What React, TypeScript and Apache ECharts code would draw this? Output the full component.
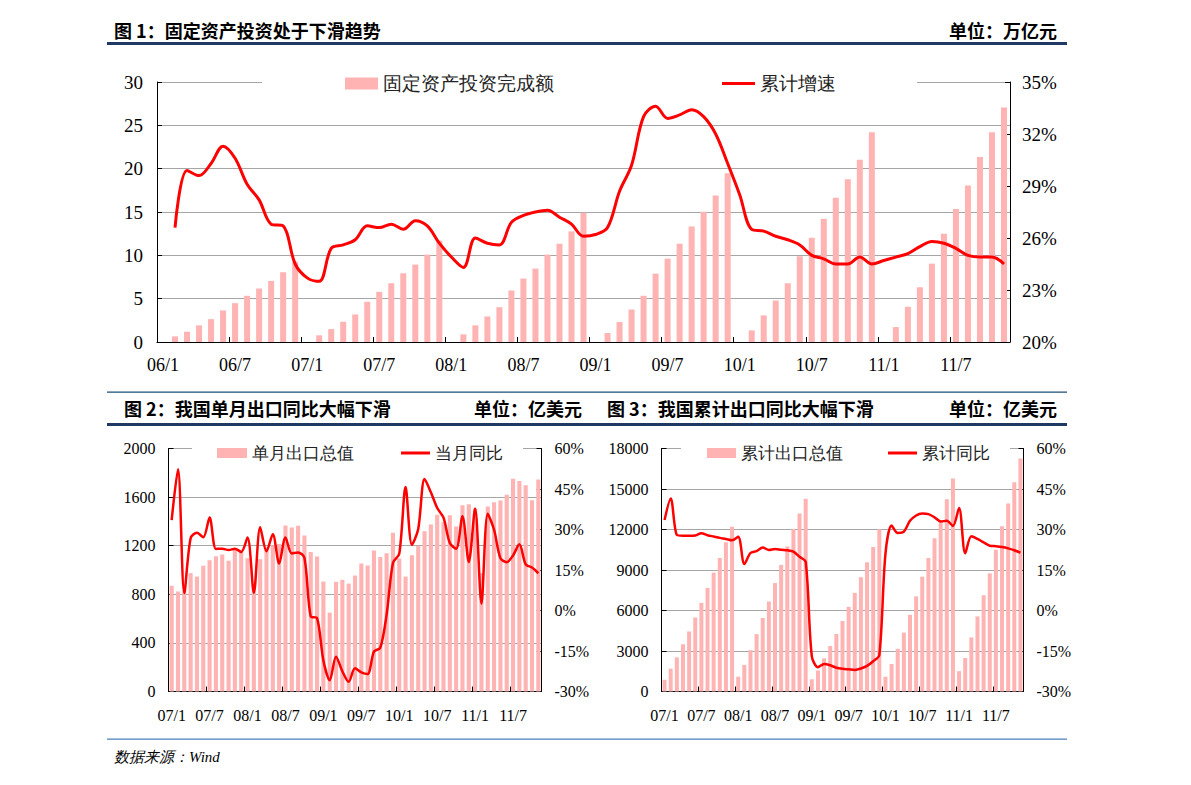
import React, { useEffect, useRef } from "react";
import * as echarts from "echarts";

// ---------- categories ----------
const faiYears = ["06", "07", "08", "09", "10", "11"];
const expYears = ["07", "08", "09", "10", "11"];
const monthNums = [1, 2, 3, 4, 5, 6, 7, 8, 9, 10, 11, 12];

// ---------- Figure 1: fixed asset investment (万亿元) & cumulative growth (%) ----------
const faiAmount = [
  null, 0.65, 1.19, 1.92, 2.64, 3.64, 4.48, 5.33, 6.17, 7.05, 8.05, 9.27,
  null, 0.77, 1.49, 2.34, 3.18, 4.64, 5.79, 6.78, 7.93, 8.93, 10.08, 11.69,
  null, 0.88, 1.92, 2.95, 4.02, 5.94, 7.32, 8.47, 10.08, 11.34, 12.76, 14.9,
  null, 1.03, 2.3, 3.75, 5.33, 7.89, 9.62, 11.34, 13.33, 15.02, 16.9, 19.46,
  null, 1.34, 3.07, 4.79, 6.78, 9.89, 12.03, 14.21, 16.63, 18.77, 21.03, 24.21,
  null, 1.72, 4.06, 6.32, 9.04, 12.49, 15.36, 18.05, 21.34, 24.21, 27.05,
];
const faiGrowth = [
  null, 26.6, 29.9, 29.6, 30.3, 31.3, 30.6, 29.1, 28.2, 26.8, 26.7, 24.5,
  23.7, 23.5, 25.4, 25.6, 25.9, 26.7, 26.6, 26.8, 26.5, 27.0, 26.7, 25.7,
  24.9, 24.3, 26.0, 25.7, 25.6, 26.9, 27.3, 27.5, 27.6, 27.2, 26.8, 26.1,
  26.2, 26.6, 28.7, 30.2, 33.0, 33.6, 32.9, 33.1, 33.4, 33.0, 32.0, 30.3,
  28.5, 26.5, 26.4, 26.1, 25.9, 25.6, 25.0, 24.8, 24.5, 24.5, 24.9, 24.5,
  24.7, 24.9, 25.1, 25.5, 25.8, 25.7, 25.4, 25.0, 24.9, 24.9, 24.5,
];

// ---------- Figure 2: monthly exports (亿美元) & YoY (%) ----------
const exportMonthly = [
  870, 823, 832, 974, 946, 1035, 1081, 1114, 1128, 1077, 1177, 1144,
  1097, 874, 1089, 1187, 1204, 1215, 1367, 1349, 1364, 1284, 1149, 1112,
  905, 649, 903, 919, 888, 954, 1054, 1037, 1160, 1108, 1137, 1307,
  1095, 946, 1121, 1200, 1318, 1374, 1455, 1392, 1450, 1359, 1533, 1541,
  1507, 974, 1522, 1557, 1572, 1619, 1752, 1733, 1697, 1575, 1745,
];
const exportMonthlyYoY = [
  33.5, 52.3, 6.5, 26.8, 28.8, 27.1, 34.4, 22.8, 22.9, 22.4, 22.9, 21.7,
  27.0, 6.6, 30.8, 21.9, 28.2, 17.4, 27.0, 21.1, 21.5, 19.5, -2.2, -2.8,
  -18.5, -25.8, -17.1, -22.5, -26.4, -21.4, -22.9, -23.5, -15.2, -13.8, -1.5, 17.6,
  21.0, 45.7, 24.3, 30.2, 48.7, 43.8, 38.0, 34.4, 25.0, 22.9, 34.9, 18.0,
  37.8, 2.5, 35.8, 29.9, 19.4, 17.9, 20.4, 24.5, 17.1, 15.9, 13.8,
];

// ---------- Figure 3: cumulative exports (亿美元) & cumulative YoY (%) ----------
const exportCum = [
  870, 1693, 2525, 3499, 4445, 5480, 6561, 7675, 8803, 9880, 11057, 12201,
  1097, 1971, 3060, 4247, 5451, 6666, 8033, 9382, 10746, 12030, 13179, 14285,
  905, 1554, 2456, 3375, 4263, 5217, 6271, 7308, 8466, 9574, 10711, 12017,
  1095, 2041, 3162, 4362, 5680, 7051, 8506, 9898, 11348, 12707, 14240, 15779,
  1507, 2481, 4003, 5560, 7132, 8751, 10503, 12236, 13933, 15508, 17253,
];
const exportCumYoY = [
  33.5, 41.5, 28.0, 27.7, 27.7, 27.8, 28.6, 27.9, 27.4, 26.9, 26.5, 26.0,
  27.3, 17.2, 21.3, 22.0, 23.3, 22.4, 22.8, 22.5, 22.3, 21.8, 19.9, 18.0,
  -17.0, -21.0, -19.8, -20.3, -21.2, -21.6, -21.8, -22.0, -21.5, -20.5, -18.8, -16.5,
  21.0, 31.5, 28.7, 29.2, 33.2, 35.2, 35.9, 35.7, 34.5, 33.0, 33.2, 31.3,
  38.0, 21.2, 27.5, 26.5, 25.2, 24.0, 23.8, 23.5, 23.0, 22.3, 21.4,
];

// ---------- texts ----------
const title1 = "图 1：固定资产投资处于下滑趋势";
const unit1 = "单位：万亿元";
const title2 = "图 2：我国单月出口同比大幅下滑";
const title3 = "图 3：我国累计出口同比大幅下滑";
const unit23 = "单位：亿美元";
const sourceText = "数据来源：Wind";

const buildCats = (years: string[], n: number) => {
  const out: string[] = [];
  years.forEach((y) => monthNums.forEach((m) => out.push(`${y}/${m}`)));
  return out.slice(0, n);
};
const faiCats = buildCats(faiYears, faiAmount.length);
const expCats = buildCats(expYears, exportMonthly.length);

const SERIF = "Liberation Serif";
const LEGEND_FONT = "Liberation Serif";
const BOLD_FONT = "Noto Sans CJK SC";
const BAR = "#FFB3B3";
const RED = "#FF0000";
const GRIDC = "#A6A6A6";

const GROWTH_BASE = 20;

export default function App() {
  const ref = useRef<HTMLDivElement>(null);
  useEffect(() => {
    if (!ref.current) return;
    const chart = echarts.init(ref.current, undefined, { renderer: "svg" });

    const xAxis = (gridIndex: number, data: string[], fontSize: number, margin: number) => ({
      type: "category",
      gridIndex,
      data,
      boundaryGap: true,
      axisLine: { show: true, lineStyle: { color: "#000", width: 1 } },
      axisTick: {
        show: true,
        inside: true,
        length: 5,
        interval: (i: number) => i % 6 === 0,
        lineStyle: { color: "#000" },
      },
      axisLabel: {
        interval: (i: number) => i % 6 === 0,
        color: "#000",
        fontSize,
        fontFamily: SERIF,
        margin,
      },
      splitLine: { show: false },
    });

    const yAxis = (
      gridIndex: number,
      position: string,
      min: number,
      max: number,
      interval: number,
      fontSize: number,
      margin: number,
      split: boolean,
      formatter?: (v: number) => string
    ) => ({
      type: "value",
      gridIndex,
      position,
      min,
      max,
      interval,
      axisLine: { show: true, lineStyle: { color: "#000", width: 1 } },
      axisTick: { show: true, inside: true, length: 5, lineStyle: { color: "#000" } },
      axisLabel: {
        color: "#000",
        fontSize,
        fontFamily: SERIF,
        margin,
        formatter: formatter || ((v: number) => `${v}`),
      },
      splitLine: { show: split, lineStyle: { color: GRIDC, width: 1 } },
    });

    const legendText = (fontSize: number) => ({
      color: "#222",
      fontSize,
      fontFamily: LEGEND_FONT,
    });

    const option: any = {
      animation: false,
      backgroundColor: "#fff",
      grid: [
        { left: 157, top: 82, width: 853, height: 260 },
        { left: 168.5, top: 448.5, width: 373, height: 243 },
        { left: 661.5, top: 448.5, width: 362, height: 243 },
      ],
      xAxis: [
        xAxis(0, faiCats, 18, 14),
        xAxis(1, expCats, 16, 16),
        xAxis(2, expCats, 16, 16),
      ],
      yAxis: [
        yAxis(0, "left", 0, 30, 5, 19, 14, true),
        yAxis(0, "right", 0, 15, 3, 19, 12, false, (v: number) => `${v + GROWTH_BASE}%`),
        yAxis(1, "left", 0, 2000, 400, 16, 13, true),
        yAxis(1, "right", -30, 60, 15, 16, 13, false, (v: number) => `${v}%`),
        yAxis(2, "left", 0, 18000, 3000, 16, 13, true),
        yAxis(2, "right", -30, 60, 15, 16, 13, false, (v: number) => `${v}%`),
      ],
      legend: [
        {
          data: ["固定资产投资完成额"],
          left: 345,
          top: 74,
          padding: 0,
          icon: "rect",
          itemWidth: 33,
          itemHeight: 12,
          textStyle: legendText(19),
        },
        {
          data: ["累计增速"],
          left: 722,
          top: 74,
          padding: 0,
          icon: "rect",
          itemWidth: 33,
          itemHeight: 3,
          textStyle: legendText(19),
        },
        {
          data: ["单月出口总值"],
          left: 217,
          top: 444.5,
          padding: 0,
          icon: "rect",
          itemWidth: 30,
          itemHeight: 10,
          textStyle: legendText(17),
        },
        {
          data: ["当月同比"],
          left: 401,
          top: 444.5,
          padding: 0,
          icon: "rect",
          itemWidth: 29,
          itemHeight: 3,
          textStyle: legendText(17),
        },
        {
          data: ["累计出口总值"],
          left: 707,
          top: 444.5,
          padding: 0,
          icon: "rect",
          itemWidth: 29,
          itemHeight: 10,
          textStyle: legendText(17),
        },
        {
          data: ["累计同比"],
          left: 888,
          top: 444.5,
          padding: 0,
          icon: "rect",
          itemWidth: 29,
          itemHeight: 3,
          textStyle: legendText(17),
        },
      ],
      series: [
        {
          name: "固定资产投资完成额",
          type: "bar",
          xAxisIndex: 0,
          yAxisIndex: 0,
          data: faiAmount,
          barWidth: "50%",
          itemStyle: { color: BAR },
          z: 2,
        },
        {
          name: "累计增速",
          type: "line",
          xAxisIndex: 0,
          yAxisIndex: 1,
          data: faiGrowth.map((v) => (v == null ? null : v - GROWTH_BASE)),
          symbol: "none",
          smooth: 0.35,
          lineStyle: { color: RED, width: 3 },
          itemStyle: { color: RED },
          z: 3,
        },
        {
          name: "单月出口总值",
          type: "bar",
          xAxisIndex: 1,
          yAxisIndex: 2,
          data: exportMonthly,
          barWidth: "65%",
          itemStyle: { color: BAR },
          z: 2,
        },
        {
          name: "当月同比",
          type: "line",
          xAxisIndex: 1,
          yAxisIndex: 3,
          data: exportMonthlyYoY,
          symbol: "none",
          smooth: 0.3,
          lineStyle: { color: RED, width: 2.5 },
          itemStyle: { color: RED },
          z: 3,
        },
        {
          name: "累计出口总值",
          type: "bar",
          xAxisIndex: 2,
          yAxisIndex: 4,
          data: exportCum,
          barWidth: "65%",
          itemStyle: { color: BAR },
          z: 2,
        },
        {
          name: "累计同比",
          type: "line",
          xAxisIndex: 2,
          yAxisIndex: 5,
          data: exportCumYoY,
          symbol: "none",
          smooth: 0.3,
          lineStyle: { color: RED, width: 2.5 },
          itemStyle: { color: RED },
          z: 3,
        },
      ],
      graphic: [
        // white covers over the top grid lines behind the legends
        { type: "rect", z: 3, shape: { x: 262, y: 79, width: 655, height: 6 }, style: { fill: "#fff" } },
        { type: "rect", z: 3, shape: { x: 192, y: 446, width: 331, height: 5 }, style: { fill: "#fff" } },
        { type: "rect", z: 3, shape: { x: 681, y: 446, width: 329, height: 5 }, style: { fill: "#fff" } },
        // header rules
        { type: "rect", z: 5, shape: { x: 107, y: 42, width: 960, height: 3 }, style: { fill: "#1F3864" } },
        { type: "rect", z: 5, shape: { x: 107, y: 391.5, width: 960, height: 1.2 }, style: { fill: "#1F4E79" } },
        { type: "rect", z: 5, shape: { x: 107, y: 423, width: 960, height: 3 }, style: { fill: "#1F3864" } },
        { type: "rect", z: 5, shape: { x: 107, y: 738.5, width: 960, height: 1.2 }, style: { fill: "#4A7EBB" } },
        // titles
        {
          type: "text",
          z: 5,
          x: 114,
          y: 30,
          style: { text: title1, fill: "#000", fontSize: 18, fontWeight: "bold", fontFamily: BOLD_FONT, verticalAlign: "middle" },
        },
        {
          type: "text",
          z: 5,
          x: 1057,
          y: 30,
          style: { text: unit1, fill: "#000", fontSize: 18, fontWeight: "bold", fontFamily: BOLD_FONT, align: "right", verticalAlign: "middle" },
        },
        {
          type: "text",
          z: 5,
          x: 124,
          y: 408,
          style: { text: title2, fill: "#000", fontSize: 18, fontWeight: "bold", fontFamily: BOLD_FONT, verticalAlign: "middle" },
        },
        {
          type: "text",
          z: 5,
          x: 582,
          y: 408,
          style: { text: unit23, fill: "#000", fontSize: 18, fontWeight: "bold", fontFamily: BOLD_FONT, align: "right", verticalAlign: "middle" },
        },
        {
          type: "text",
          z: 5,
          x: 607,
          y: 408,
          style: { text: title3, fill: "#000", fontSize: 18, fontWeight: "bold", fontFamily: BOLD_FONT, verticalAlign: "middle" },
        },
        {
          type: "text",
          z: 5,
          x: 1057,
          y: 408,
          style: { text: unit23, fill: "#000", fontSize: 18, fontWeight: "bold", fontFamily: BOLD_FONT, align: "right", verticalAlign: "middle" },
        },
        {
          type: "text",
          z: 5,
          x: 114,
          y: 757,
          style: { text: sourceText, fill: "#000", fontSize: 15, fontStyle: "italic", fontFamily: SERIF, verticalAlign: "middle" },
        },
      ],
    };

    chart.setOption(option);
    return () => chart.dispose();
  }, []);

  return (
    <div
      ref={ref}
      style={{ position: "absolute", left: 0, top: 0, width: 1191, height: 785, background: "#fff" }}
    />
  );
}
